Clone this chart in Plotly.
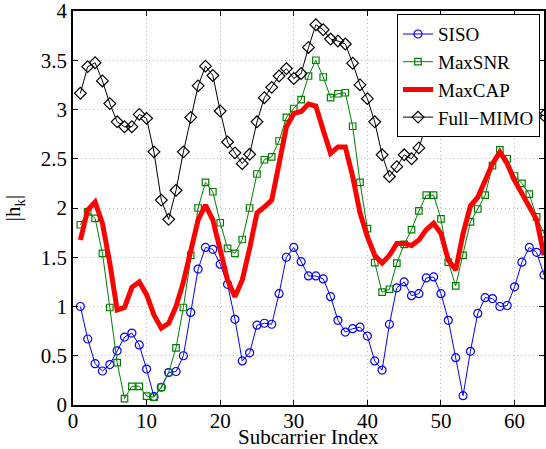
import plotly.graph_objects as go

idx = list(range(1, 65))

siso = [1.00, 0.67, 0.42, 0.345, 0.41, 0.55, 0.69, 0.73, 0.61, 0.365,
        0.085, 0.18, 0.33, 0.34, 0.50, 0.94, 1.38, 1.60, 1.58, 1.43,
        1.225, 0.87, 0.447, 0.53, 0.81, 0.83, 0.82, 1.13, 1.50, 1.60,
        1.455, 1.31, 1.31, 1.28, 1.10, 0.86, 0.74, 0.775, 0.79, 0.70,
        0.447, 0.355, 0.82, 1.19, 1.25, 1.11, 1.13, 1.29, 1.30, 1.13,
        0.86, 0.48, 0.095, 0.545, 0.93, 1.09, 1.08, 1.00, 1.01, 1.20,
        1.45, 1.60, 1.55, 1.32]

maxsnr = [1.83, 1.96, 1.895, 1.54, 0.99, 0.43, 0.065, 0.19, 0.19, 0.09,
          0.08, 0.18, 0.33, 0.58, 0.99, 1.52, 2.00, 2.26, 2.165, 1.85,
          1.59, 1.54, 1.68, 2.00, 2.345, 2.49, 2.52, 2.68, 2.92, 3.01,
          3.10, 3.34, 3.50, 3.33, 3.12, 3.16, 3.17, 2.83, 2.26, 1.79,
          1.445, 1.145, 1.175, 1.44, 1.63, 1.78, 1.97, 2.13, 2.13, 1.89,
          1.45, 1.21, 1.52, 1.86, 1.99, 2.13, 2.43, 2.59, 2.50, 2.325,
          2.25, 2.14, 1.91, 1.74]

maxcap = [1.675, 1.98, 2.06, 1.845, 1.44, 0.965, 0.99, 1.195, 1.25, 1.12,
          0.915, 0.78, 0.83, 1.00, 1.25, 1.575, 1.88, 2.03, 1.88, 1.575,
          1.27, 1.10, 1.27, 1.59, 1.95, 2.01, 2.08, 2.45, 2.825, 2.96,
          2.98, 3.055, 3.035, 2.79, 2.555, 2.62, 2.62, 2.32, 1.95, 1.71,
          1.52, 1.44, 1.52, 1.64, 1.64, 1.62, 1.675, 1.78, 1.845, 1.74,
          1.47, 1.37, 1.74, 2.02, 2.11, 2.28, 2.45, 2.57, 2.45, 2.28,
          2.15, 2.00, 1.88, 1.52]

fullmimo = [3.165, 3.435, 3.475, 3.29, 3.06, 2.875, 2.825, 2.825, 2.95, 2.91,
            2.57, 2.08, 1.885, 2.18, 2.57, 2.92, 3.24, 3.44, 3.345, 2.985,
            2.67, 2.56, 2.45, 2.545, 2.875, 3.12, 3.225, 3.34, 3.415, 3.315,
            3.365, 3.63, 3.86, 3.81, 3.715, 3.695, 3.665, 3.47, 3.25, 3.11,
            2.875, 2.54, 2.32, 2.42, 2.54, 2.50, 2.61, 2.84, 2.995, 3.15,
            3.30, 3.35, 3.20, 3.15, 3.30, 3.50, 3.55, 3.45, 3.30, 3.20,
            3.10, 3.05, 2.94, 2.94]

x_ticks = [0, 10, 20, 30, 40, 50, 60]
y_ticks = [0, 0.5, 1, 1.5, 2, 2.5, 3, 3.5, 4]
y_tick_labels = ["0", "0.5", "1", "1.5", "2", "2.5", "3", "3.5", "4"]

FONT = "Liberation Serif, Times New Roman, Times, serif"

fig = go.Figure()
fig.add_trace(go.Scatter(x=idx, y=siso, name="SISO", mode="lines+markers",
                         line=dict(color="#0000ff", width=1),
                         marker=dict(symbol="circle-open", size=8, color="#0000ff",
                                     line=dict(width=1.2))))
fig.add_trace(go.Scatter(x=idx, y=maxsnr, name="MaxSNR", mode="lines+markers",
                         line=dict(color="#008000", width=1),
                         marker=dict(symbol="square-open", size=6.5, color="#008000",
                                     line=dict(width=1.2))))
fig.add_trace(go.Scatter(x=idx, y=maxcap, name="MaxCAP", mode="lines",
                         line=dict(color="#ff0000", width=5)))
fig.add_trace(go.Scatter(x=idx, y=fullmimo, name="Full\u2212MIMO", mode="lines+markers",
                         line=dict(color="#000000", width=1),
                         marker=dict(symbol="diamond-open", size=9, color="#000000",
                                     line=dict(width=1.2))))

axis_common = dict(showline=True, linecolor="black", linewidth=1.5, mirror="allticks",
                   ticks="inside", ticklen=5, tickcolor="black",
                   showgrid=True, gridcolor="#bdbdbd", griddash="1px,3px", gridwidth=1,
                   zeroline=False, ticklabeloverflow="allow", automargin=False,
                   tickfont=dict(family=FONT, size=21, color="black"))

fig.update_xaxes(range=[0, 64], tickvals=x_ticks, ticklabelstandoff=-4, **axis_common)
fig.update_yaxes(range=[0, 4], tickvals=y_ticks, ticktext=y_tick_labels,
                 title=dict(text="|h<sub>k</sub>|", standoff=14,
                            font=dict(family=FONT, size=21, color="black")),
                 **axis_common)

fig.add_annotation(text="Subcarrier Index", xref="paper", yref="paper",
                   x=0.5, y=-0.081, xanchor="center", yanchor="middle",
                   showarrow=False, font=dict(family=FONT, size=21, color="black"))

fig.update_layout(
    width=546, height=449,
    margin=dict(l=73, r=2, t=11, b=44, autoexpand=False),
    paper_bgcolor="white", plot_bgcolor="white",
    font=dict(family=FONT, size=20, color="black"),
    legend=dict(x=0.9915, y=0.992, xanchor="right", yanchor="top",
                bgcolor="white", bordercolor="black", borderwidth=1,
                font=dict(family=FONT, size=19, color="black"),
                itemwidth=30, tracegroupgap=0),
    showlegend=True,
)

fig.write_html("out.html")
